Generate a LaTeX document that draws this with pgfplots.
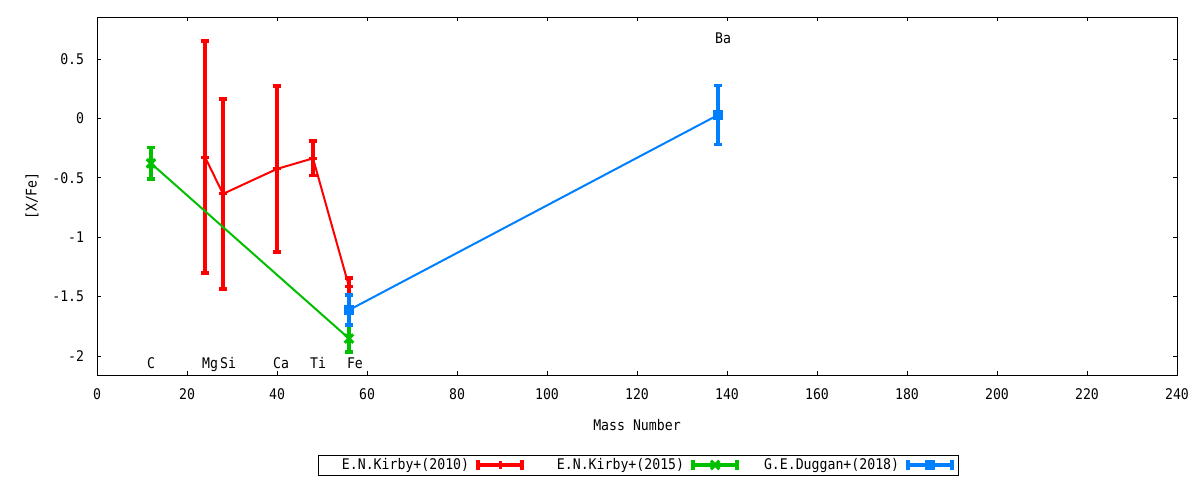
\documentclass[border=0pt]{standalone}
\usepackage{fontspec}
\setmainfont{DejaVu Sans Mono}[FakeStretch=0.9]
\usepackage{pgfplots}
\usepackage{pgfplotstable}
\pgfplotsset{compat=1.18}
\definecolor{gred}{RGB}{255,0,0}
\definecolor{ggreen}{RGB}{0,192,0}
\definecolor{gblue}{RGB}{0,128,255}

\pgfplotstableread{
x y e
24 -0.325 0.975
28 -0.635 0.800
40 -0.425 0.700
48 -0.336 0.145
56 -1.415 0.072
}\kirbyten
\pgfplotstableread{
x y e
12 -0.378 0.133
56 -1.853 0.113
}\kirbyfifteen
\pgfplotstableread{
x y e
56 -1.613 0.126
138 0.029 0.248
}\duggan

\pgfplotsset{
  errleg/.style={legend image code/.code={
    \path[draw=none, fill=none] (0pt,-5pt) rectangle (41.25pt,5pt);
    \draw[line width=3pt] (6.75pt,0pt) -- (39.75pt,0pt);
    \draw[line width=3pt] (6.75pt,-4pt) -- (6.75pt,4pt);
    \draw[line width=3pt] (39.75pt,-4pt) -- (39.75pt,4pt);
    \draw plot coordinates {(23.25pt,0pt)};
  }},
  ebar/.style={
    error bars/.cd, y dir=both, y explicit,
    error bar style={line width=3pt, solid},
    error mark options={rotate=90, line width=2.8pt, mark size=3.2pt, solid},
  },
}

\begin{document}
\fontsize{11pt}{13pt}\selectfont
\begin{tikzpicture}
\useasboundingbox (0,0) rectangle (900pt,360pt);
\begin{axis}[
  at={(72.75pt,78.75pt)}, anchor=south west,
  scale only axis, width=810pt, height=268.5pt,
  xmin=0, xmax=240, ymin=-2.16, ymax=0.854,
  xtick={0,20,...,240},
  xticklabels={0,20,40,60,80,100,120,140,160,180,200,220,240},
  ytick={-2,-1.5,-1,-0.5,0,0.5},
  yticklabels={-2,-1.5,-1,-0.5,0,0.5},
  tick align=inside, major tick length=3pt,
  tick style={black, line width=0.75pt},
  axis line style={line width=0.75pt},
  font=\fontsize{11pt}{13pt}\selectfont,
  xticklabel style={yshift=-6pt},
  yticklabel style={xshift=-5.8pt},
  xlabel={Mass Number}, ylabel={[X/Fe]},
  xlabel style={at={(axis description cs:0.5,-0.1397)}, anchor=center},
  ylabel style={at={(axis description cs:-0.0602,0.5)}, anchor=center},
  legend columns=3,
  legend plot pos=right,
  legend style={at={(axis description cs:0.5015,-0.2514)}, anchor=center,
    draw=black, line width=0.75pt, inner xsep=3.2pt, inner ysep=2pt,
    nodes={inner sep=0pt},
    /tikz/column sep=0pt},
  clip=false,
]
\addplot[gred, line width=1.5pt, mark=+, mark options={line width=2.3pt, mark size=3pt}, errleg,
  ebar] table[x=x, y=y, y error=e] {\kirbyten};
\addlegendentry{\makebox[109.5pt][r]{E.N.Kirby+(2010)}}
\addplot[ggreen, line width=1.5pt, mark=x, mark options={line width=2.3pt, mark size=4.5pt}, errleg,
  ebar] table[x=x, y=y, y error=e] {\kirbyfifteen};
\addlegendentry{\makebox[120pt][r]{E.N.Kirby+(2015)}}
\addplot[gblue, line width=1.5pt, mark=square*, mark options={line width=0.5pt, mark size=3.5pt}, errleg,
  ebar] table[x=x, y=y, y error=e] {\duggan};
\addlegendentry{\makebox[120pt][r]{G.E.Duggan+(2018)}}

\node[anchor=base west, inner sep=0pt] at (axis cs:11.1,-2.109) {C};
\node[anchor=base west, inner sep=0pt] at (axis cs:23.3,-2.109) {Mg};
\node[anchor=base west, inner sep=0pt] at (axis cs:27.3,-2.109) {Si};
\node[anchor=base west, inner sep=0pt] at (axis cs:39.1,-2.109) {Ca};
\node[anchor=base west, inner sep=0pt] at (axis cs:47.3,-2.109) {Ti};
\node[anchor=base west, inner sep=0pt] at (axis cs:55.5,-2.109) {Fe};
\node[anchor=base west, inner sep=0pt] at (axis cs:137.3,0.632) {Ba};
\end{axis}
\end{tikzpicture}
\end{document}
